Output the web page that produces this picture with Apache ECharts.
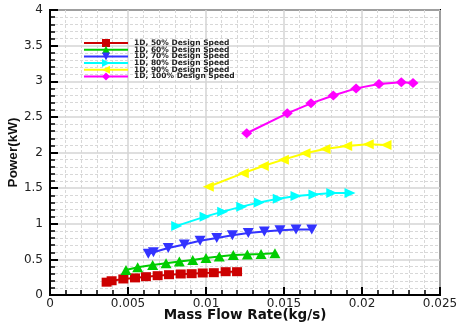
<!DOCTYPE html>
<html>
<head>
<meta charset="utf-8">
<script src="https://cdn.jsdelivr.net/npm/echarts@6/dist/echarts.min.js"></script>
<style>
html,body{margin:0;padding:0;background:#fff;}
#chart{width:457px;height:325px;}
</style>
</head>
<body>
<div id="chart"></div>
<script>
// ---- data ----
const seriesNames = ['1D, 50% Design Speed','1D, 60% Design Speed','1D, 70% Design Speed','1D, 80% Design Speed','1D, 90% Design Speed','1D, 100% Design Speed'];

const flow50 = [0.00363, 0.00395, 0.0047, 0.00545, 0.00615, 0.0069, 0.00763, 0.00838, 0.00908, 0.00979, 0.0105, 0.01126, 0.01199];
const power50 = [0.18, 0.20, 0.225, 0.24, 0.257, 0.271, 0.285, 0.295, 0.299, 0.309, 0.313, 0.327, 0.327];

const flow60 = [0.00487, 0.00562, 0.00658, 0.00744, 0.00829, 0.00915, 0.0100, 0.01085, 0.01175, 0.01265, 0.01353, 0.01442];
const power60 = [0.35, 0.39, 0.42, 0.445, 0.47, 0.49, 0.52, 0.54, 0.56, 0.57, 0.575, 0.585];

const flow70 = [0.0063, 0.00663, 0.00758, 0.00861, 0.00962, 0.01069, 0.01169, 0.01271, 0.01374, 0.01474, 0.01577, 0.01678];
const power70 = [0.58, 0.60, 0.66, 0.71, 0.76, 0.80, 0.84, 0.87, 0.89, 0.91, 0.92, 0.92];

const flow80 = [0.00812, 0.00994, 0.01107, 0.01229, 0.01342, 0.01463, 0.01577, 0.01692, 0.01806, 0.01923];
const power80 = [0.97, 1.10, 1.17, 1.24, 1.30, 1.35, 1.39, 1.41, 1.43, 1.43];

const flow90 = [0.01015, 0.01239, 0.01367, 0.01496, 0.01635, 0.01763, 0.01902, 0.0204, 0.02154];
const power90 = [1.52, 1.71, 1.81, 1.90, 1.99, 2.05, 2.09, 2.115, 2.105];

const flow100 = [0.01261, 0.01521, 0.01673, 0.01816, 0.01962, 0.02109, 0.02252, 0.02327];
const power100 = [2.27, 2.55, 2.69, 2.80, 2.90, 2.96, 2.985, 2.975];

const xTickLabels = ['0','0.005','0.01','0.015','0.02','0.025'];
const yTickLabels = ['0','0.5','1','1.5','2','2.5','3','3.5','4'];
const xTitle = 'Mass Flow Rate(kg/s)';
const yTitle = 'Power(kW)';

// ---- styling ----
const colors = ['#cc0000','#00cc00','#3333ff','#00ffff','#ffff00','#ff00ff'];
const symbols = ['rect','triangle','triangle','triangle','triangle','diamond'];
const rotates = [0, 0, 180, -90, 90, 0];
const sizes = [[10,9],[11,10],[11,10],[10,11],[10,11],[11,10]];
const flows = [flow50, flow60, flow70, flow80, flow90, flow100];
const powers = [power50, power60, power70, power80, power90, power100];

const series = seriesNames.map((name, i) => ({
  name: name,
  type: 'line',
  data: flows[i].map((x, j) => [x, powers[i][j]]),
  symbol: symbols[i],
  symbolRotate: rotates[i],
  symbolSize: sizes[i],
  showAllSymbol: true,
  lineStyle: {color: colors[i], width: 2},
  itemStyle: {color: colors[i], borderWidth: 0},
  emphasis: {disabled: true},
  animation: false,
  z: 5
}));

const chart = echarts.init(document.getElementById('chart'), null, {renderer: 'canvas'});
chart.setOption({
  animation: false,
  backgroundColor: '#fff',
  grid: {left: 50, right: 17, top: 10, bottom: 30, show: true, borderColor: '#000', borderWidth: 2,
    backgroundColor: 'transparent', containLabel: false, outerBoundsMode: 'none'},
  legend: {
    show: true,
    orient: 'vertical',
    left: 83,
    top: 39,
    itemWidth: 44,
    itemHeight: 10,
    itemGap: -1.3,
    padding: 0,
    data: seriesNames,
    textStyle: {fontFamily: 'DejaVu Sans', fontWeight: 'bold', fontSize: 7.5, color: '#222', padding: [0,0,0,1]},
    selectedMode: false
  },
  xAxis: {
    type: 'value',
    min: 0, max: 0.025, interval: 0.005,
    name: xTitle,
    nameLocation: 'middle',
    nameGap: 13,
    nameMoveOverlap: false,
    nameTextStyle: {fontFamily: 'DejaVu Sans', fontWeight: 'bold', fontSize: 13.5, color: '#111'},
    axisLine: {show: true, onZero: false, lineStyle: {color: '#000', width: 2}},
    axisTick: {show: true, inside: true, length: 8, lineStyle: {color: '#000', width: 2}},
    minorTick: {show: true, splitNumber: 5, length: 5, lineStyle: {color: '#000', width: 1.5}},
    axisLabel: {show: true, margin: 3, fontFamily: 'DejaVu Sans', fontSize: 12, color: '#222',
      formatter: v => xTickLabels[Math.round(v / 0.005)]},
    splitLine: {show: true, lineStyle: {color: '#d4d4d4', width: 1.5}},
    minorSplitLine: {show: true, lineStyle: {color: '#d8d8d8', width: 1, type: [3,2]}},
    z: 3
  },
  yAxis: {
    type: 'value',
    min: 0, max: 4, interval: 0.5,
    name: yTitle,
    nameLocation: 'middle',
    nameGap: 30,
    nameMoveOverlap: false,
    nameRotate: 90,
    nameTextStyle: {fontFamily: 'Liberation Sans', fontWeight: 'bold', fontSize: 13.5, color: '#111'},
    axisLine: {show: true, onZero: false, lineStyle: {color: '#000', width: 2}},
    axisTick: {show: true, inside: true, length: 8, lineStyle: {color: '#000', width: 2}},
    minorTick: {show: true, splitNumber: 5, length: 5, lineStyle: {color: '#000', width: 1.5}},
    axisLabel: {show: true, margin: 7, fontFamily: 'DejaVu Sans', fontSize: 12, color: '#222',
      formatter: v => yTickLabels[Math.round(v / 0.5)]},
    splitLine: {show: true, lineStyle: {color: '#d4d4d4', width: 1.5}},
    minorSplitLine: {show: true, lineStyle: {color: '#d8d8d8', width: 1, type: [3,2]}},
    z: 3
  },
  series: series
});
</script>
</body>
</html>
